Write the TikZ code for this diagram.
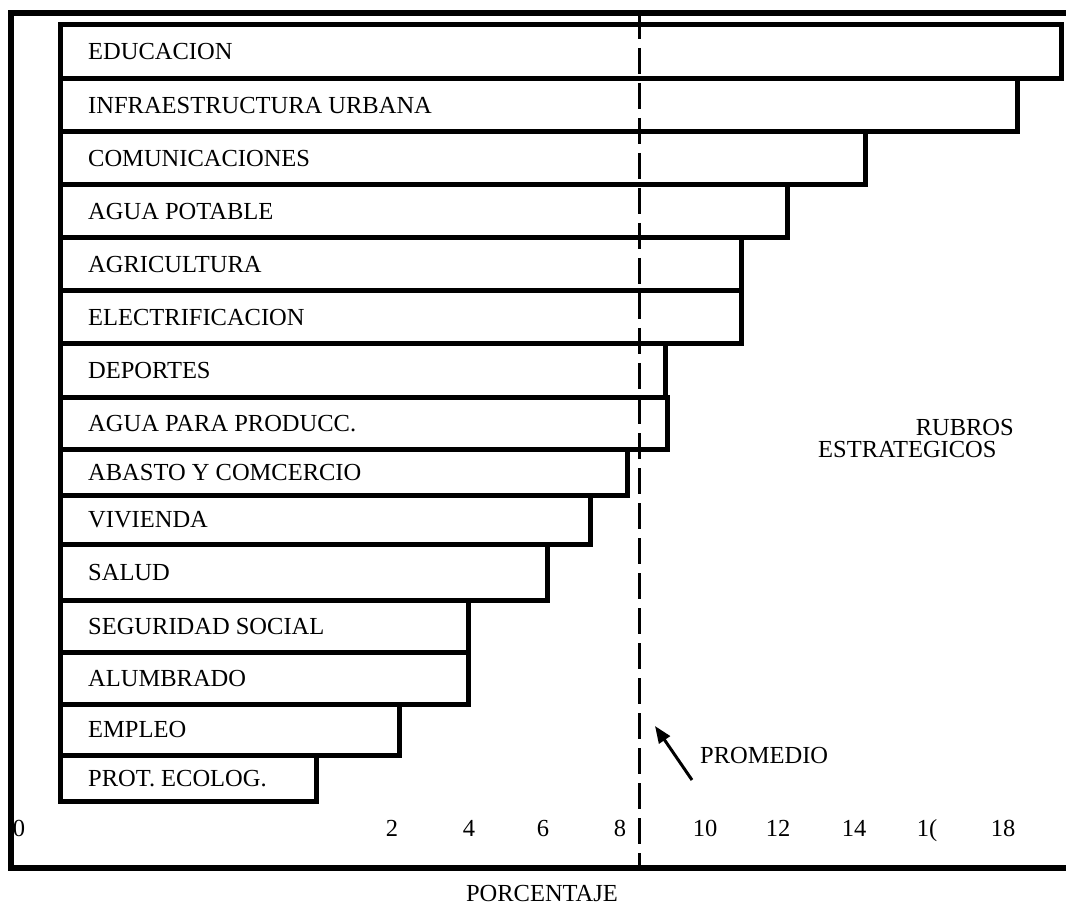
\documentclass[tikz,border=0pt]{standalone}
\usepackage{fontspec}
\setmainfont{Liberation Serif}
\usetikzlibrary{arrows.meta}
\begin{document}
\begin{tikzpicture}[x=1pt,y=-1pt,
  bar/.style={draw=black, line width=5pt},
  frame/.style={draw=black, line width=5.5pt},
  avgline/.style={draw=black, line width=3pt, dash pattern=on 26pt off 9pt},
  txt/.style={inner sep=0pt, font=\fontsize{24.5}{24.5}\selectfont},
  lbl/.style={txt, anchor=base west},
  tick/.style={txt, anchor=base},
  pointer/.style={draw=black, line width=3pt, -{Triangle[length=17pt,width=13pt]}}]
\useasboundingbox (0,0) rectangle (1066,917);

% outer frame, open to the right
\begin{scope}
  \clip (0,0) rectangle (1066,917);
  \draw[frame] (1090,13) -- (11,13) -- (11,868) -- (1090,868);
\end{scope}

% bars: top / bottom / right end / name / label
\foreach \t/\b/\r/\n/\s in {
  25/79/1061/educ/EDUCACION,
  79/132/1017/infra/INFRAESTRUCTURA URBANA,
  132/185/865/comun/COMUNICACIONES,
  185/238/787/agua/AGUA POTABLE,
  238/291/741/agri/AGRICULTURA,
  291/344/741/elec/ELECTRIFICACION,
  344/397/665/depo/DEPORTES,
  397/449/667/aprod/AGUA PARA PRODUCC.,
  449/495/627/abasto/ABASTO Y COMCERCIO,
  495/544/590/vivi/VIVIENDA,
  544/600/547/salud/SALUD,
  600/652/468/segu/SEGURIDAD SOCIAL,
  652/704/468/alum/ALUMBRADO,
  704/755/399/empleo/EMPLEO,
  755/801/316/prot/PROT. ECOLOG.}{
  \draw[bar] (60,\t) rectangle (\r,\b);
  \node[lbl] (\n) at (88,{(\t+\b)/2+8}) {\s};
}

% average line
\coordinate (avgtop) at (639,13);
\coordinate (avgbot) at (639,868);
\draw[avgline] (avgtop) -- (avgbot);

% axis numbers
\foreach \x/\v/\n in {19/0/t0, 392/2/t2, 469/4/t4, 543/6/t6, 620/8/t8,
                      705/10/t10, 778/12/t12, 854/14/t14, 1003/18/t18}{
  \node[tick] (\n) at (\x,836) {\v};
}
\node[tick] (t16) at (927,836) {1(};

% annotations
\node[txt, anchor=base west] (prom) at (700,763) {PROMEDIO};
\coordinate (ptail) at (692,780);
\coordinate (phead) at (655,726);
\draw[pointer] (ptail) -- (phead);

\node[txt, anchor=base east] (rub1) at (1014,435) {RUBROS};
\node[txt, anchor=base west] (rub2) at (818,457) {ESTRATEGICOS};

\node[txt, anchor=base] (axis) at (542,901) {PORCENTAJE};
\end{tikzpicture}
\end{document}
